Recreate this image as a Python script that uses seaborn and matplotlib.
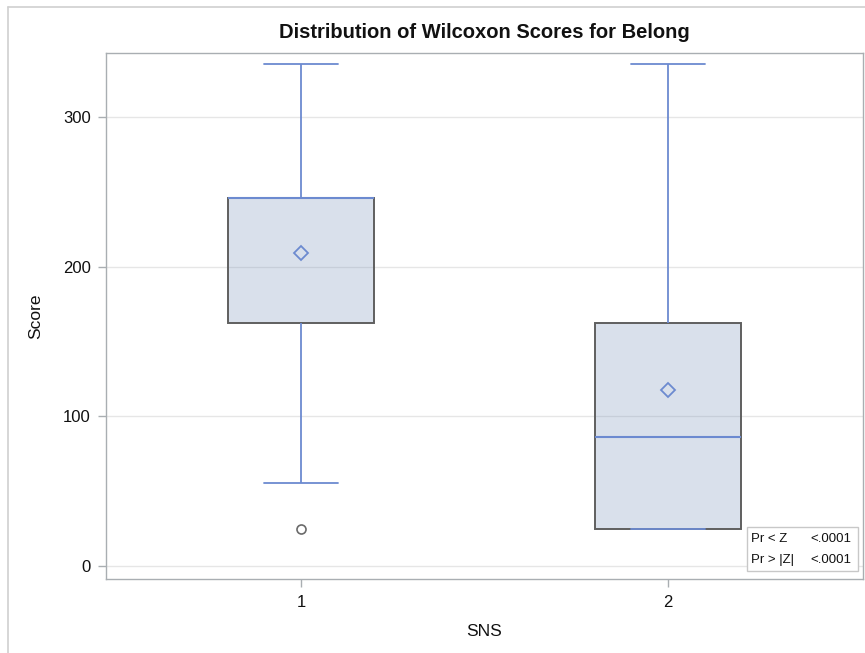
import numpy as np
import pandas as pd
import matplotlib
matplotlib.use("Agg")
import matplotlib.pyplot as plt
from matplotlib.patches import Rectangle
from matplotlib.lines import Line2D
import seaborn as sns

# Wilcoxon rank scores of Belong, by SNS group
sns_groups = ["1", "2"]
scores_sns1 = [25.0, 55.5, 162.6, 228.3, 245.9, 245.9, 245.9, 335.5, 335.5]
scores_sns2 = [25.0, 25.0, 25.0, 55.5, 86.4, 162.6, 162.6, 180.8, 335.5]

# Two-sided test summary shown in the inset
test_labels = ["Pr < Z", "Pr > |Z|"]
test_pvalues = ["<.0001", "<.0001"]

df = pd.DataFrame({
    "SNS": [sns_groups[0]] * len(scores_sns1) + [sns_groups[1]] * len(scores_sns2),
    "Score": scores_sns1 + scores_sns2,
})

sns.set_theme(style="white")
plt.rcParams["font.family"] = ["Liberation Sans", "DejaVu Sans"]

BLUE = "#6C8AD0"
EDGE = "#5F5F5F"
GRID = "#E6E6E6"
SPINE = "#A9AEB2"

fig = plt.figure(figsize=(8.65, 6.53), dpi=100)
ax = fig.add_axes([106 / 865, 1 - 579 / 653, (863 - 106) / 865, (579 - 52.7) / 653])

sns.boxplot(
    data=df, x="SNS", y="Score", order=sns_groups, ax=ax,
    color="#6B87B3", saturation=1, width=0.4, linecolor=EDGE, linewidth=1.4,
    whis=1.5, showmeans=True,
    whiskerprops=dict(color=BLUE, linewidth=1.3),
    capprops=dict(color=BLUE, linewidth=1.3),
    medianprops=dict(color=BLUE, linewidth=1.5),
    meanprops=dict(marker="D", markersize=7.5, markerfacecolor="none",
                   markeredgecolor=BLUE, markeredgewidth=1.3),
    flierprops=dict(marker="o", markersize=6.5, markerfacecolor="none",
                    markeredgecolor="#6A6A6A", markeredgewidth=1.2),
)

for p in ax.patches:
    p.set_facecolor((0.42, 0.53, 0.70, 0.25))
    p.set_edgecolor(EDGE)

ax.set_xlim(-0.531, 1.531)
ax.set_ylim(-8.7, 343)
ax.set_yticks([0, 100, 200, 300])
ax.yaxis.grid(True, color=GRID, linewidth=1.0, zorder=0)
ax.set_axisbelow(True)

for s in ax.spines.values():
    s.set_color(SPINE)
    s.set_linewidth(1.0)

ax.tick_params(axis="both", which="major", length=6, width=1, color=SPINE,
               labelsize=12, labelcolor="#111111", pad=5, direction="out",
               left=True, bottom=True)
ax.tick_params(axis="x", pad=5.5)
ax.set_xlabel("SNS", fontsize=12.5, color="#111111", labelpad=10)
ax.set_ylabel("Score", fontsize=12.5, color="#111111", labelpad=14.5)

fig.text(484.5 / 865, 1 - 33 / 653, "Distribution of Wilcoxon Scores for Belong",
         ha="center", va="center", fontsize=14.5, fontweight="bold", color="#111111")

# inset with the test probabilities
x0, x1 = 747 / 865, 858 / 865
y0, y1 = 1 - 571 / 653, 1 - 527 / 653
fig.add_artist(Rectangle((x0, y0), x1 - x0, y1 - y0, transform=fig.transFigure,
                         facecolor="white", edgecolor="#C8C8C8", linewidth=1.0))
for i, (lab, pv) in enumerate(zip(test_labels, test_pvalues)):
    yy = 1 - (538.5 + 21.5 * i) / 653
    fig.text(751 / 865, yy, lab, ha="left", va="center", fontsize=9.5, color="#111111")
    fig.text(851 / 865, yy, pv, ha="right", va="center", fontsize=9.5, color="#111111")

# outer graph frame
fig.add_artist(Line2D([8 / 865, 8 / 865], [0, 1 - 6.7 / 653], transform=fig.transFigure,
                      color="#D0D0D0", linewidth=1.2))
fig.add_artist(Line2D([8 / 865, 1], [1 - 6.7 / 653, 1 - 6.7 / 653], transform=fig.transFigure,
                      color="#D0D0D0", linewidth=1.2))

fig.savefig("out.png", dpi=100, facecolor="white")
